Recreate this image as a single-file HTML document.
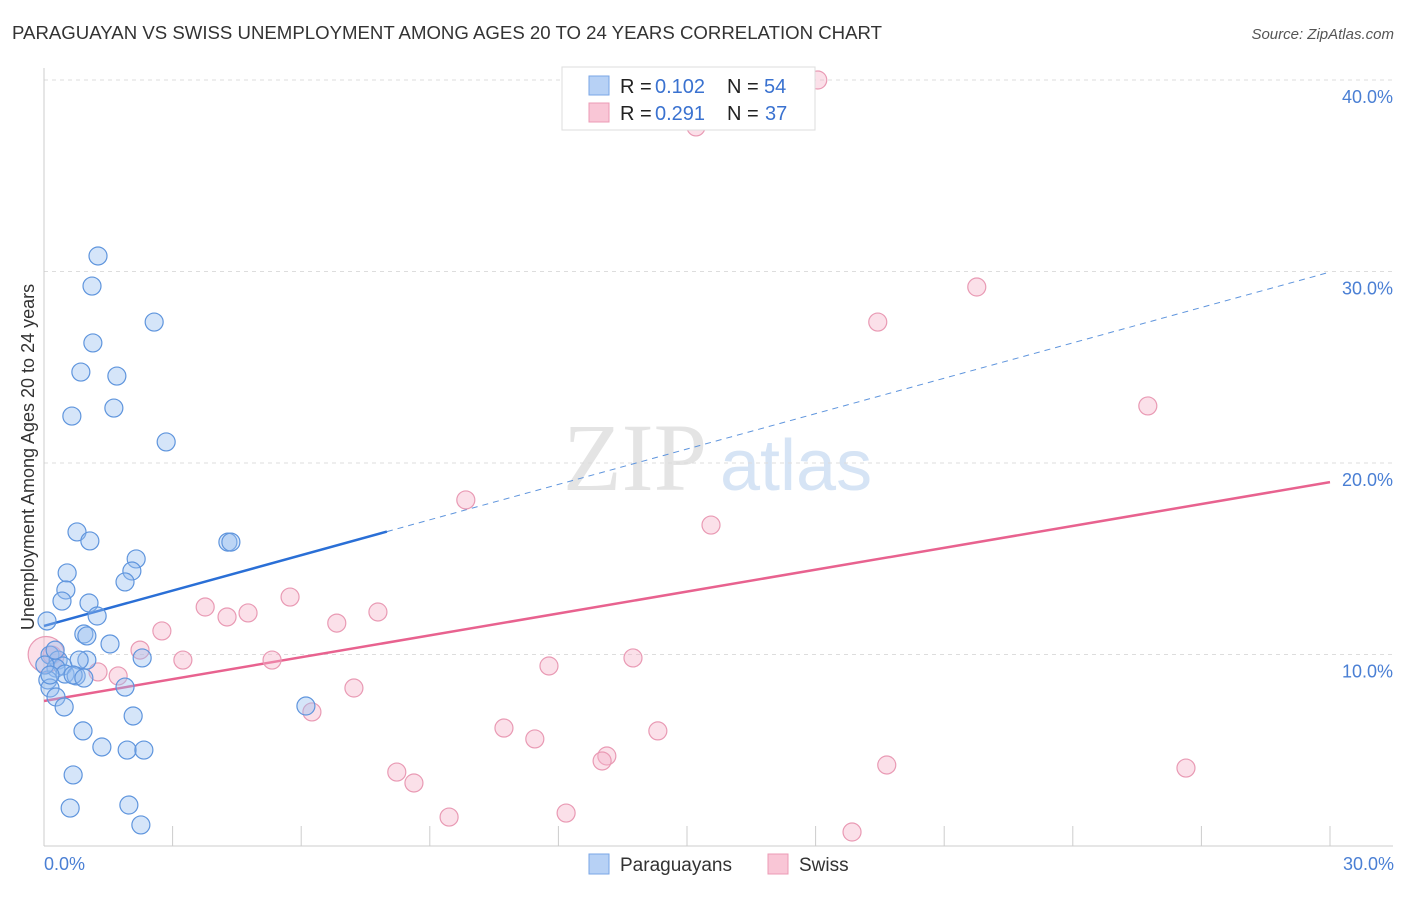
<!DOCTYPE html>
<html><head><meta charset="utf-8"><style>
body{margin:0;background:#fff;font-family:"Liberation Sans",sans-serif}
</style></head><body>
<svg width="1406" height="892" viewBox="0 0 1406 892" font-family="Liberation Sans, sans-serif">
<text x="12" y="39" font-size="18" fill="#333" textLength="870" lengthAdjust="spacingAndGlyphs">PARAGUAYAN VS SWISS UNEMPLOYMENT AMONG AGES 20 TO 24 YEARS CORRELATION CHART</text>
<text x="1394" y="39" font-size="15" fill="#555" font-style="italic" text-anchor="end">Source: ZipAtlas.com</text>
<g>
<text x="635" y="490" font-size="96" fill="#e4e4e4" font-family="Liberation Serif, serif" text-anchor="middle">ZIP</text>
<text x="720" y="490" font-size="72" fill="#d6e4f5">atlas</text>
</g>
<g id="grid"></g>
<g id="axes"></g>
<g id="lines"></g>
<g id="pts"></g>
<text transform="translate(34,457) rotate(-90)" font-size="18" fill="#333" text-anchor="middle">Unemployment Among Ages 20 to 24 years</text>
<text x="44" y="870" font-size="18" fill="#4a7fd4">0.0%</text>
<text x="1394" y="870" font-size="18" fill="#4a7fd4" text-anchor="end">30.0%</text>
<g>
<rect x="562" y="67" width="253" height="63" fill="#fff" stroke="#ddd"/>
<rect x="589" y="76" width="20" height="19" fill="#b7d1f5" stroke="#7aa6e6"/>
<rect x="589" y="103" width="20" height="19" fill="#f9c6d6" stroke="#ec9bb5"/>
<text x="620" y="93" font-size="20" fill="#222">R =</text>
<text x="655" y="93" font-size="20" fill="#3a72d0">0.102</text>
<text x="727" y="93" font-size="20" fill="#222">N =</text>
<text x="764" y="93" font-size="20" fill="#3a72d0">54</text>
<text x="620" y="120" font-size="20" fill="#222">R =</text>
<text x="655" y="120" font-size="20" fill="#3a72d0">0.291</text>
<text x="727" y="120" font-size="20" fill="#222">N =</text>
<text x="765" y="120" font-size="20" fill="#3a72d0">37</text>
</g>
<g>
<rect x="589" y="854" width="20" height="20" fill="#b7d1f5" stroke="#7aa6e6"/>
<text x="620" y="871" font-size="19" fill="#333">Paraguayans</text>
<rect x="768" y="854" width="20" height="20" fill="#f9c6d6" stroke="#ec9bb5"/>
<text x="799" y="871" font-size="19" fill="#333">Swiss</text>
</g>
</svg>
<script>
const yTicks=[10,20,30,40];
const yTickLabels=["10.0%","20.0%","30.0%","40.0%"];
const blueX=[1.26,1.12,2.57,1.14,0.86,1.70,0.65,1.63,2.85,0.77,1.07,4.29,4.36,2.15,2.05,0.54,1.89,0.51,0.42,1.05,1.24,0.07,0.93,1.00,1.54,0.14,0.33,0.44,1.00,0.82,2.29,0.28,0.49,0.75,0.68,0.93,0.09,0.14,0.28,1.89,0.47,6.11,2.08,0.91,1.35,1.94,2.33,0.68,0.61,1.98,2.26,0.26,0.02,0.14];
const blueY=[30.81,29.24,27.36,26.27,24.75,24.54,22.45,22.87,21.10,16.40,15.93,15.87,15.87,14.99,14.36,14.26,13.79,13.37,12.79,12.69,12.01,11.75,11.07,10.97,10.55,9.97,9.71,9.40,9.71,9.71,9.82,9.29,8.98,8.88,8.93,8.77,8.67,8.25,7.78,8.30,7.26,7.31,6.79,6.01,5.17,5.01,5.01,3.71,1.98,2.14,1.10,10.23,9.45,8.93];
const pinkX=[18.05,15.21,21.76,19.45,25.75,9.84,15.56,5.74,3.76,4.76,7.79,4.27,6.83,2.75,2.24,3.24,5.32,0.19,1.26,1.73,7.23,11.78,13.74,6.25,10.73,11.45,14.32,13.13,13.02,8.23,8.63,19.66,26.64,9.45,12.18,18.85,0.05];
const pinkY=[40.0,37.55,29.19,27.36,22.98,18.07,16.76,13.00,12.48,12.17,12.22,11.96,11.64,11.23,10.23,9.71,9.71,9.97,9.09,8.88,8.25,9.40,9.82,7.00,6.16,5.59,6.01,4.70,4.44,3.86,3.29,4.23,4.07,1.51,1.72,0.73,10.0];
const blueLine=[11.49,29.97];
const pinkLine=[7.57,19.0];
const blueSolidEnd=8.0;
const X0=44,X1=1330,XMAX=30,Y0=846,PPY=19.15;
const sx=v=>X0+v/XMAX*(X1-X0), sy=v=>Y0-v*PPY;
const NS="http://www.w3.org/2000/svg";
function mk(t,a,p){const e=document.createElementNS(NS,t);for(const k in a)e.setAttribute(k,a[k]);p.appendChild(e);return e;}
const grid=document.getElementById('grid'),axes=document.getElementById('axes'),lines=document.getElementById('lines'),pts=document.getElementById('pts');
yTicks.forEach((t,i)=>{
 const l=mk('line',{x1:X0,x2:1393,y1:sy(t),y2:sy(t),stroke:'#ddd','stroke-dasharray':'4,4'},grid);
 
 
 const tx=mk('text',{x:1393,y:sy(t)+23,'font-size':18,fill:'#4a7fd4','text-anchor':'end'},grid);
 tx.textContent=yTickLabels[i];
 
 
});
mk('line',{x1:X0,x2:X0,y1:68,y2:Y0,stroke:'#ccc'},axes);
mk('line',{x1:X0,x2:1393,y1:Y0,y2:Y0,stroke:'#ccc'},axes);
for(let k=1;k<=10;k++){const x=sx(k*3);const t=mk('line',{x1:x,x2:x,y1:826,y2:Y0,stroke:'#ccc'},axes);
 
 }
const by=x=>blueLine[0]+(blueLine[1]-blueLine[0])*x/XMAX;
const py=x=>pinkLine[0]+(pinkLine[1]-pinkLine[0])*x/XMAX;
function drawPts(xs,ys,fill,stroke,name){xs.forEach((x,i)=>{const r=(name==='swiss-point'&&i===xs.length-1)?18:9;
 const c=mk('circle',{cx:sx(x),cy:sy(ys[i]),r:r,fill:fill,stroke:stroke,'stroke-width':1.2},pts);
 
 });}
drawPts(pinkX,pinkY,'rgba(246,178,200,0.4)','#e99ab4','swiss-point');
drawPts(blueX,blueY,'rgba(150,190,240,0.4)','#5f95dd','paraguayan-point');
const bs=mk('line',{x1:sx(0),y1:sy(by(0)),x2:sx(blueSolidEnd),y2:sy(by(blueSolidEnd)),stroke:'#2a6fd6','stroke-width':2.5},lines);


const bd=mk('line',{x1:sx(blueSolidEnd),y1:sy(by(blueSolidEnd)),x2:sx(30),y2:sy(by(30)),stroke:'#5f95dd','stroke-width':1,'stroke-dasharray':'6,5'},lines);


const pl=mk('line',{x1:sx(0),y1:sy(py(0)),x2:sx(30),y2:sy(py(30)),stroke:'#e8628f','stroke-width':2.5},lines);


</script>
</body></html>
